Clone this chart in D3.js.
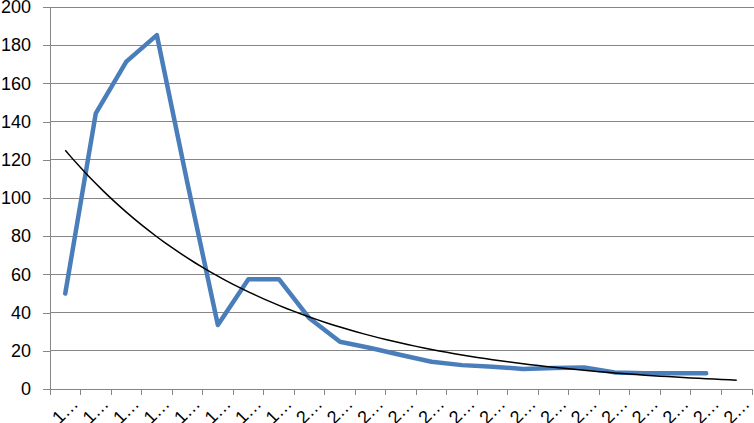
<!DOCTYPE html>
<html><head><meta charset="utf-8">
<script src="https://cdn.jsdelivr.net/npm/d3@7"></script>
<style>body{margin:0;background:#fff}svg{display:block}</style>
</head><body>
<svg id="c" width="754" height="423"></svg>
<script>
const categories = ["1…","1…","1…","1…","1…","1…","1…","1…","2…","2…","2…","2…","2…","2…","2…","2…","2…","2…","2…","2…","2…","2…","2…"];
const values = [50, 144.3, 171.4, 185.3, 108, 33.5, 57.5, 57.5, 37, 24.7, 21.5, 17.8, 14.3, 12.5, 11.7, 10.5, 11, 11.3, 8.7, 8.2, 8.2, 8.2, null];
const yTicks = [0,20,40,60,80,100,120,140,160,180,200];

(function () {
const svg = d3.select("#c");
const pLeft = 50, pRight = 752, pTop = 7, pBottom = 389;
const x = d3.scaleBand().domain(d3.range(categories.length)).range([pLeft, pRight]).paddingInner(0).paddingOuter(0);
const y = d3.scaleLinear().domain([0, 200]).range([pBottom, pTop]);
const cx = i => x(i) + x.bandwidth() / 2;

// gridlines
svg.append("g").selectAll("line").data(yTicks.filter(t => t > 0)).join("line")
  .attr("x1", pLeft).attr("x2", 754).attr("y1", d => y(d)).attr("y2", d => y(d))
  .attr("stroke", "#868686").attr("stroke-width", 1).attr("shape-rendering", "crispEdges");

// y axis
const ya = svg.append("g").attr("transform", `translate(${pLeft},0)`)
  .call(d3.axisLeft(y).tickValues(yTicks).tickSize(7).tickPadding(12));
ya.select(".domain").attr("stroke", "#868686").attr("shape-rendering", "crispEdges");
ya.selectAll(".tick line").attr("stroke", "#868686").attr("shape-rendering", "crispEdges");
ya.selectAll("text").attr("font-family", "Liberation Sans, Arial, sans-serif").attr("font-size", 18).attr("fill", "#000");

// x axis
const xa = svg.append("g").attr("transform", `translate(0,${pBottom})`);
xa.append("line").attr("x1", pLeft).attr("x2", pRight).attr("y1", 0).attr("y2", 0)
  .attr("stroke", "#868686").attr("shape-rendering", "crispEdges");
xa.selectAll("line.t").data(d3.range(categories.length + 1)).join("line").attr("class", "t")
  .attr("x1", i => pLeft + i * x.bandwidth()).attr("x2", i => pLeft + i * x.bandwidth())
  .attr("y1", 0).attr("y2", 6).attr("stroke", "#868686").attr("shape-rendering", "crispEdges");
xa.selectAll("text").data(categories).join("text")
  .attr("transform", (d, i) => `translate(${cx(i) + 14},16) rotate(-45)`)
  .attr("text-anchor", "end")
  .attr("font-family", "Liberation Sans, Arial, sans-serif").attr("font-size", 18).attr("fill", "#000")
  .text(d => d);

// data line
const pts = values.map((v, i) => [i, v]).filter(p => p[1] != null);
svg.append("path").datum(pts)
  .attr("fill", "none").attr("stroke", "#4A7EBB").attr("stroke-width", 4.5)
  .attr("stroke-linejoin", "round").attr("stroke-linecap", "round")
  .attr("d", d3.line().x(p => cx(p[0])).y(p => y(p[1])));

// exponential trendline (least squares on ln y)
const mx = d3.mean(pts, p => p[0]);
const my = d3.mean(pts, p => Math.log(p[1]));
const b = d3.sum(pts, p => (p[0] - mx) * (Math.log(p[1]) - my)) / d3.sum(pts, p => (p[0] - mx) ** 2);
const a = my - b * mx;
const trend = d3.range(0, categories.length - 1 + 0.001, 0.25).map(t => [t, Math.exp(a + b * t)]);
svg.append("path").datum(trend)
  .attr("fill", "none").attr("stroke", "#000").attr("stroke-width", 1.5)
  .attr("d", d3.line().x(p => cx(0) + p[0] * x.bandwidth()).y(p => y(p[1])));
})();
</script>
</body></html>
